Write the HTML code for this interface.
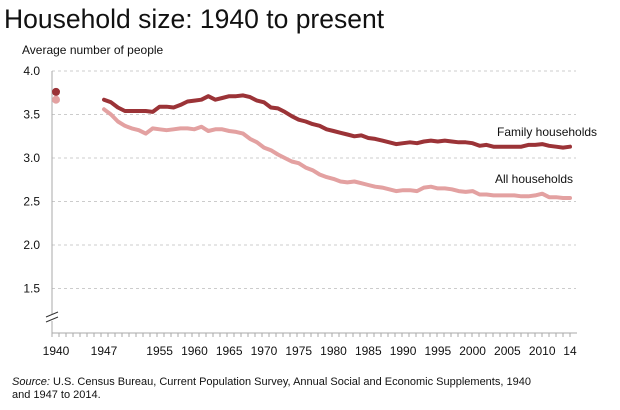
<!DOCTYPE html>
<html><head><meta charset="utf-8"><style>
body{margin:0;background:#fff;font-family:"Liberation Sans",sans-serif;}
svg text{font-family:"Liberation Sans",sans-serif;}
</style></head><body>
<svg id="chart" width="620" height="405" xmlns="http://www.w3.org/2000/svg">
<text x="4" y="28" font-size="26.5" fill="#111">Household size: 1940 to present</text>
<text x="22" y="54" font-size="12" fill="#111">Average number of people</text>
<g id="grid"></g><g id="axes"></g><g id="series"></g>
<text x="497" y="136" font-size="12" fill="#111">Family households</text>
<text x="495" y="183" font-size="12" fill="#111">All households</text>
<text x="12" y="385" font-size="11" fill="#111"><tspan font-style="italic">Source:</tspan> U.S. Census Bureau, Current Population Survey, Annual Social and Economic Supplements, 1940</text>
<text x="12" y="398" font-size="11" fill="#111">and 1947 to 2014.</text>
</svg>
<script>
const yTicks=[4.0,3.5,3.0,2.5,2.0,1.5];
const xTickYears=[1940,1947,1955,1960,1965,1970,1975,1980,1985,1990,1995,2000,2005,2010,2014];
const xTickLabels=["1940","1947","1955","1960","1965","1970","1975","1980","1985","1990","1995","2000","2005","2010","14"];
const family1940=3.76;
const all1940=3.67;
const startYear=1947;
const familyValues=[3.67,3.64,3.58,3.54,3.54,3.54,3.54,3.53,3.59,3.59,3.58,3.61,3.65,3.66,3.67,3.71,3.67,3.69,3.71,3.71,3.72,3.70,3.66,3.64,3.58,3.57,3.53,3.48,3.44,3.42,3.39,3.37,3.33,3.31,3.29,3.27,3.25,3.26,3.23,3.22,3.20,3.18,3.16,3.17,3.18,3.17,3.19,3.20,3.19,3.20,3.19,3.18,3.18,3.17,3.14,3.15,3.13,3.13,3.13,3.13,3.13,3.15,3.15,3.16,3.14,3.13,3.12,3.13];
const allValues=[3.56,3.50,3.42,3.37,3.34,3.32,3.28,3.34,3.33,3.32,3.33,3.34,3.34,3.33,3.36,3.31,3.33,3.33,3.31,3.30,3.28,3.22,3.18,3.12,3.09,3.04,3.00,2.96,2.94,2.89,2.86,2.81,2.78,2.76,2.73,2.72,2.73,2.71,2.69,2.67,2.66,2.64,2.62,2.63,2.63,2.62,2.66,2.67,2.65,2.65,2.64,2.62,2.61,2.62,2.58,2.58,2.57,2.57,2.57,2.57,2.56,2.56,2.57,2.59,2.55,2.55,2.54,2.54];
const NS="http://www.w3.org/2000/svg";
function xs(yr){return yr===1940?56:104+(yr-1947)*6.955;}
function ys(v){return 71+(4.0-v)*87;}
function mk(tag,attrs,parent){const e=document.createElementNS(NS,tag);for(const k in attrs)e.setAttribute(k,attrs[k]);parent.appendChild(e);return e;}
const grid=document.getElementById('grid'),axes=document.getElementById('axes'),series=document.getElementById('series');
yTicks.forEach(v=>{
  const l=mk('line',{x1:52,x2:576,y1:ys(v),y2:ys(v),stroke:'#ccc','stroke-dasharray':'3,3','stroke-width':1},grid);
  
  
  const t=mk('text',{x:40,y:ys(v)+4,'font-size':12,'text-anchor':'end',fill:'#111'},grid);
  t.textContent=v.toFixed(1);
  
  
});
const ya=mk('path',{d:'M52 71 V314 M52 321 V333',stroke:'#aaa','stroke-width':1,fill:'none'},axes);


const br=mk('path',{d:'M46 317 L58 312 M46 322 L58 317',stroke:'#333','stroke-width':1,fill:'none'},axes);


const xa=mk('line',{x1:52,x2:577,y1:333,y2:333,stroke:'#aaa','stroke-width':1},axes);


for(let i=0;i<75;i++){const x=52+i*7;if(x>577)break;mk('line',{x1:x,x2:x,y1:333,y2:337,stroke:'#aaa','stroke-width':1},axes);}
xTickYears.forEach((yr,i)=>{
  const t=mk('text',{x:xs(yr),y:355,'font-size':12,'text-anchor':'middle',fill:'#111'},axes);
  t.textContent=xTickLabels[i];
  
  
});
function drawLine(vals,color,name){
  const d=vals.map((v,i)=>(i?'L':'M')+xs(startYear+i).toFixed(1)+' '+ys(v).toFixed(1)).join(' ');
  const p=mk('path',{d:d,stroke:color,'stroke-width':4,fill:'none','stroke-linejoin':'round','stroke-linecap':'round'},series);
  
  
}
drawLine(allValues,'#e3a1a1','all-households-line');
drawLine(familyValues,'#9b3337','family-households-line');
const d1=mk('circle',{cx:xs(1940),cy:ys(all1940),r:4,fill:'#e3a1a1'},series);


const d2=mk('circle',{cx:xs(1940),cy:ys(family1940),r:4,fill:'#9b3337'},series);


</script>
</body></html>
